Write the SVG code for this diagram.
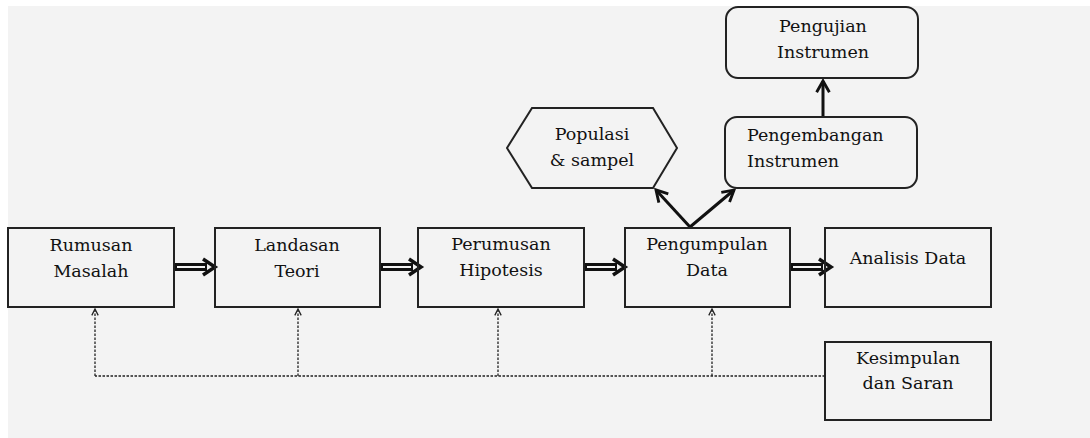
<svg xmlns="http://www.w3.org/2000/svg" width="1090" height="438" viewBox="0 0 1090 438">
<style>
.box{fill:none;stroke:#222;stroke-width:2}
.t{font-family:"DejaVu Serif","Liberation Serif",serif;font-size:17.5px;fill:#111;text-anchor:middle;dominant-baseline:central}
.dash{fill:none;stroke:#222;stroke-width:1.3;stroke-dasharray:2.5,1.5}
.thick{fill:none;stroke:#111;stroke-width:3}
.dblo{fill:none;stroke:#111;stroke-width:8}
.dbli{fill:none;stroke:#f3f3f3;stroke-width:2}
</style>
<defs>
<marker id="sm" viewBox="0 0 10 10" refX="9" refY="5" markerWidth="8" markerHeight="8" markerUnits="userSpaceOnUse" orient="auto">
<path d="M1,1 L9,5 L1,9" fill="none" stroke="#222" stroke-width="1.6"/>
</marker>
<marker id="big" viewBox="0 0 10 10" refX="8" refY="5" markerWidth="16" markerHeight="16" markerUnits="userSpaceOnUse" orient="auto">
<path d="M1,1 L8,5 L1,9" fill="none" stroke="#111" stroke-width="1.8"/>
</marker>
<g id="dbl">
<path class="dblo" d="M0,0 H33"/>
<path class="dbli" d="M3,0 H31"/>
<path d="M29,-8 L41,0 L29,8" fill="none" stroke="#111" stroke-width="3.5"/>
</g>
</defs>
<rect x="0" y="0" width="1090" height="438" fill="#fff"/>
<rect x="8" y="6" width="1082" height="432" fill="#f3f3f3"/>

<g id="connectors">
<use href="#dbl" x="174" y="267"/>
<use href="#dbl" x="380" y="267"/>
<use href="#dbl" x="584" y="267"/>
<use href="#dbl" x="790" y="267"/>
<path class="dash" d="M825,376 H95"/>
<path class="dash" d="M95,376 V309" marker-end="url(#sm)"/>
<path class="dash" d="M298,376 V309" marker-end="url(#sm)"/>
<path class="dash" d="M498,376 V309" marker-end="url(#sm)"/>
<path class="dash" d="M712,376 V309" marker-end="url(#sm)"/>
<path class="thick" d="M690,227 L656,190" marker-end="url(#big)"/>
<path class="thick" d="M690,227 L734,190" marker-end="url(#big)"/>
<path class="thick" d="M823,117 V81" marker-end="url(#big)"/>
</g>

<g id="rumusan">
<rect class="box" x="8" y="228" width="166" height="79"/>
<text class="t" x="91" y="245">Rumusan</text>
<text class="t" x="91" y="271">Masalah</text>
</g>
<g id="landasan">
<rect class="box" x="215" y="228" width="165" height="79"/>
<text class="t" x="297" y="245">Landasan</text>
<text class="t" x="297" y="271">Teori</text>
</g>
<g id="perumusan">
<rect class="box" x="418" y="228" width="166" height="79"/>
<text class="t" x="501" y="244">Perumusan</text>
<text class="t" x="501" y="270">Hipotesis</text>
</g>
<g id="pengumpulan">
<rect class="box" x="625" y="228" width="165" height="79"/>
<text class="t" x="707" y="244">Pengumpulan</text>
<text class="t" x="707" y="270">Data</text>
</g>
<g id="analisis">
<rect class="box" x="825" y="228" width="166" height="79"/>
<text class="t" x="908" y="258">Analisis Data</text>
</g>
<g id="kesimpulan">
<rect class="box" x="825" y="342" width="166" height="78"/>
<text class="t" x="908" y="358">Kesimpulan</text>
<text class="t" x="908" y="383">dan Saran</text>
</g>
<g id="populasi">
<polygon class="box" points="532,108 653,108 677,148 653,188 532,188 507,148"/>
<text class="t" x="592" y="134">Populasi</text>
<text class="t" x="592" y="160">&amp; sampel</text>
</g>
<g id="pengembangan">
<rect class="box" x="725" y="117" width="192" height="71" rx="12"/>
<text class="t" x="747" y="135" style="text-anchor:start">Pengembangan</text>
<text class="t" x="747" y="161" style="text-anchor:start">Instrumen</text>
</g>
<g id="pengujian">
<rect class="box" x="726" y="7" width="192" height="71" rx="12"/>
<text class="t" x="823" y="26">Pengujian</text>
<text class="t" x="823" y="52">Instrumen</text>
</g>
</svg>
